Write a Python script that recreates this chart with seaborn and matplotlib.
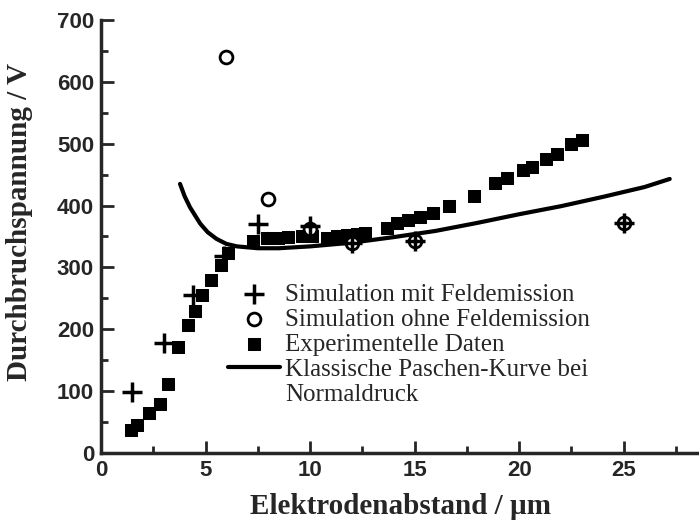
import matplotlib
matplotlib.use("Agg")
import matplotlib.pyplot as plt
import seaborn as sns
import pandas as pd
from matplotlib.lines import Line2D
from matplotlib.ticker import MultipleLocator

# Simulation mit Feldemission (+)
sim_fe_x = [1.5, 3.0, 4.4, 5.9, 7.5, 10.0, 12.0, 15.0, 25.0]
sim_fe_y = [99, 178, 255, 318, 370, 367, 340, 343, 372]

# Simulation ohne Feldemission (o)
sim_ofe_x = [6.0, 8.0, 10.0, 12.0, 15.0, 25.0]
sim_ofe_y = [640, 410, 362, 340, 343, 372]

# Experimentelle Daten (squares)
exp_x = [1.42, 1.74, 2.31, 2.82, 3.22, 3.70, 4.15, 4.50, 4.82, 5.26, 5.74, 6.09,
         7.29, 7.93, 8.48, 8.96, 9.60, 10.08, 10.80, 11.28, 11.76, 12.24, 12.63,
         13.67, 14.15, 14.70, 15.26, 15.90, 16.62, 17.86, 18.85, 19.41, 20.20,
         20.60, 21.30, 21.80, 22.50, 22.99]
exp_y = [37, 45, 64, 80, 111, 172, 207, 230, 256, 279, 304, 323,
         343, 347, 348, 349, 350, 351, 348, 350, 352, 354, 356,
         363, 371, 376, 382, 388, 399, 415, 437, 445, 457,
         462, 475, 484, 499, 506]

# Klassische Paschen-Kurve bei Normaldruck
pas_x = [3.78, 4.0, 4.26, 4.74, 5.1, 5.53, 6.0, 6.5, 7.5, 8.5, 10.0, 12.0,
         14.0, 16.0, 18.0, 20.0, 22.0, 24.0, 26.0, 27.2]
pas_y = [435, 415, 397, 371, 357, 346, 338, 334, 331, 331, 334, 340,
         349, 359, 372, 386, 399, 414, 430, 443]

labels = ["Simulation mit Feldemission", "Simulation ohne Feldemission",
          "Experimentelle Daten", "Klassische Paschen-Kurve bei", "Normaldruck"]

sns.set_style("ticks")
plt.rcParams["font.family"] = ["Liberation Serif", "DejaVu Serif"]

fig = plt.figure(figsize=(6.99, 5.26), dpi=100)
ax = fig.add_axes([0.1445, 0.1388, 0.8555, 0.8232])

df_pas = pd.DataFrame({"x": pas_x, "y": pas_y})
df_exp = pd.DataFrame({"x": exp_x, "y": exp_y})
df_fe = pd.DataFrame({"x": sim_fe_x, "y": sim_fe_y})
df_ofe = pd.DataFrame({"x": sim_ofe_x, "y": sim_ofe_y})

sns.lineplot(data=df_pas, x="x", y="y", ax=ax, color="black", lw=3,
             sort=False, label=labels[3], zorder=2)
sns.scatterplot(data=df_exp, x="x", y="y", ax=ax, marker="s", s=85,
                color="black", edgecolor="black", label=labels[2], zorder=3)
sns.scatterplot(data=df_ofe, x="x", y="y", ax=ax, marker="o", s=85,
                facecolor="white", edgecolor="black", linewidth=2,
                label=labels[1], zorder=4)
sns.scatterplot(data=df_fe, x="x", y="y", ax=ax, marker="+", s=190,
                color="black", linewidth=2.5, label=labels[0], zorder=5)

ax.set_xlim(0, 28.6)
ax.set_ylim(0, 700)
ax.xaxis.set_major_locator(MultipleLocator(5))
ax.xaxis.set_minor_locator(MultipleLocator(2.5))
ax.yaxis.set_major_locator(MultipleLocator(100))
ax.yaxis.set_minor_locator(MultipleLocator(50))
ax.tick_params(which="major", direction="in", length=9, width=2, pad=5)
ax.tick_params(which="minor", direction="in", length=5, width=2)
for lab in ax.get_xticklabels() + ax.get_yticklabels():
    lab.set_family("Liberation Sans")
    lab.set_fontweight("bold")
    lab.set_fontsize(16)

sns.despine(ax=ax)
for side in ["left", "bottom"]:
    ax.spines[side].set_linewidth(2.5)

ax.set_xlabel("Elektrodenabstand / µm", fontsize=21, fontweight="bold", labelpad=9)
ax.set_ylabel("Durchbruchspannung / V", fontsize=21, fontweight="bold")
ax.yaxis.set_label_coords(-0.113, 0.533)

h, l = ax.get_legend_handles_labels()
handles = [h[l.index(t)] for t in labels[:4]]
handles.append(Line2D([], [], linestyle="none", marker=None))
leg = ax.legend(handles, labels,
                loc="upper left", bbox_to_anchor=(0.212, 0.392), frameon=False,
                fontsize=18, handlelength=2.1, handletextpad=0.18,
                labelspacing=0.1, borderpad=0, borderaxespad=0)

fig.savefig("out.png", dpi=100)
